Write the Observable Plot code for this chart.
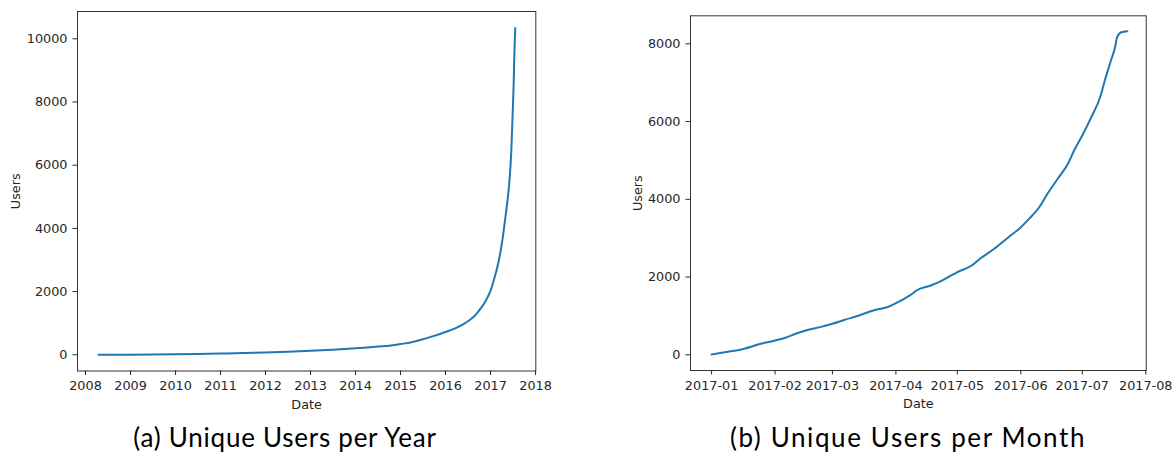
<!DOCTYPE html>
<html>
<head>
<meta charset="utf-8">
<script src="https://cdn.jsdelivr.net/npm/d3@7"></script>
<script src="https://cdn.jsdelivr.net/npm/@observablehq/plot@0.6"></script>
<style>
  html, body { margin: 0; padding: 0; background: #fff; }
  #root { position: relative; width: 1176px; height: 457px; overflow: hidden; background: #fff; }
  .panel { position: absolute; top: 0; }
  .caption { position: absolute; top: 421px; font-family: Lato, "Open Sans", sans-serif; font-size: 26px; letter-spacing: 0.75px; color: #000; white-space: nowrap; transform: translateX(-50%); }
</style>
</head>
<body>
<div id="root"></div>
<script>
// ---- Panel (a): unique users per year ----
const yearDates = ["2008-04-15","2008-07-01","2009-01-01","2009-07-01","2010-01-01","2010-07-01","2011-01-01","2011-07-01","2012-01-01","2012-07-01","2013-01-01","2013-07-01","2014-01-01","2014-07-01","2014-10-01","2015-01-01","2015-04-01","2015-07-01","2015-10-01","2016-01-01","2016-03-15","2016-05-26","2016-07-01","2016-08-08","2016-09-13","2016-10-19","2016-11-24","2017-01-01","2017-01-30","2017-02-24","2017-03-22","2017-04-13","2017-05-01","2017-05-19","2017-06-03","2017-06-18","2017-06-28","2017-07-06","2017-07-13","2017-07-20"];
const yearUsers = [0,1,3,8,15,25,40,55,75,95,125,160,205,260,285,340,400,490,600,720,830,970,1060,1170,1320,1500,1720,2030,2400,2760,3250,3800,4340,4900,5500,6440,7500,8400,9500,10340];
const yearTicks = ["2008-01-01","2009-01-01","2010-01-01","2011-01-01","2012-01-01","2013-01-01","2014-01-01","2015-01-01","2016-01-01","2017-01-01","2018-01-01"];
const yearYTicks = [0,2000,4000,6000,8000,10000];

// ---- Panel (b): unique users per month ----
const monthDates = ["2017-01-01","2017-01-08","2017-01-15","2017-01-25","2017-02-01","2017-02-06","2017-02-11","2017-02-16","2017-02-23","2017-03-01","2017-03-07","2017-03-14","2017-03-21","2017-03-28","2017-04-01","2017-04-05","2017-04-09","2017-04-11","2017-04-18","2017-04-23","2017-04-28","2017-05-01","2017-05-08","2017-05-12","2017-05-19","2017-05-26","2017-06-01","2017-06-05","2017-06-10","2017-06-14","2017-06-19","2017-06-24","2017-06-27","2017-07-01","2017-07-05","2017-07-10","2017-07-12","2017-07-15","2017-07-17","2017-07-18","2017-07-20","2017-07-23"];
const monthUsers = [10,70,130,283,369,437,540,626,712,797,900,1012,1140,1230,1328,1440,1569,1654,1783,1893,2040,2125,2297,2469,2726,3025,3282,3498,3796,4141,4527,4913,5255,5640,6070,6669,7055,7569,7912,8169,8298,8323];
const monthTicks = ["2017-01-01","2017-02-01","2017-03-01","2017-04-01","2017-05-01","2017-06-01","2017-07-01","2017-08-01"];
const monthYTicks = [0,2000,4000,6000,8000];

const captions = ["(a) Unique Users per Year", "(b) Unique Users per Month"];
const xLabel = "Date", yLabel = "Users";

const parse = d3.utcParse("%Y-%m-%d");
const yearData = yearDates.map((d, i) => ({date: parse(d), users: yearUsers[i]}));
const monthData = monthDates.map((d, i) => ({date: parse(d), users: monthUsers[i]}));

const ink = "#262626";
const lineColor = "#1f77b4";
const fs = 12.8;

function panel({data, width, height, margins, xDomain, yDomain, xTicks, xFormat, yTicks, yLabelDx}) {
  return Plot.plot({
    width, height,
    marginLeft: margins[0], marginRight: margins[1], marginTop: margins[2], marginBottom: margins[3],
    style: {fontFamily: "DejaVu Sans, sans-serif", fontSize: fs + "px", color: ink, background: "#fff", overflow: "visible"},
    x: {type: "utc", domain: xDomain},
    y: {domain: yDomain},
    marks: [
      Plot.frame({stroke: "#333", strokeWidth: 1}),
      Plot.axisX({ticks: xTicks.map(parse), tickFormat: d3.utcFormat(xFormat), tickSize: 4.5, tickPadding: 5.5, label: null, stroke: ink, fill: ink}),
      Plot.axisY({ticks: yTicks, tickFormat: d => String(d), tickSize: 4.5, tickPadding: 5.5, label: null, stroke: ink, fill: ink}),
      Plot.line(data, {x: "date", y: "users", stroke: lineColor, strokeWidth: 2, curve: "monotone-x"}),
      Plot.text([xLabel], {frameAnchor: "bottom", textAnchor: "middle", lineAnchor: "middle", dy: 33.5, fill: ink, fontSize: fs}),
      Plot.text([yLabel], {frameAnchor: "left", textAnchor: "middle", lineAnchor: "middle", rotate: -90, dx: yLabelDx, fill: ink, fontSize: fs})
    ]
  });
}

const root = document.getElementById("root");

const left = panel({
  data: yearData, width: 560, height: 420,
  margins: [77, 24.7, 11, 49.5],
  xDomain: [new Date(Date.UTC(2007, 9, 28)), new Date(Date.UTC(2018, 0, 3))],
  yDomain: [-513, 10864],
  xTicks: yearTicks, xFormat: "%Y", yTicks: yearYTicks, yLabelDx: -62
});
left.classList.add("panel");
left.style.left = "0px";
root.appendChild(left);

const right = panel({
  data: monthData, width: 576, height: 420,
  margins: [90, 30.3, 15.3, 50],
  xDomain: [new Date(Date.UTC(2016, 11, 21, 17)), new Date(Date.UTC(2017, 7, 1, 5))],
  yDomain: [-404, 8720],
  xTicks: monthTicks, xFormat: "%Y-%m", yTicks: monthYTicks, yLabelDx: -53
});
right.classList.add("panel");
right.style.left = "600px";
root.appendChild(right);

const capX = [285, 908];
const capSpacing = ["0.75px", "1.6px"];
captions.forEach((c, i) => {
  const el = document.createElement("div");
  el.className = "caption";
  el.textContent = c;
  el.style.left = capX[i] + "px";
  el.style.letterSpacing = capSpacing[i];
  root.appendChild(el);
});
</script>
</body>
</html>
